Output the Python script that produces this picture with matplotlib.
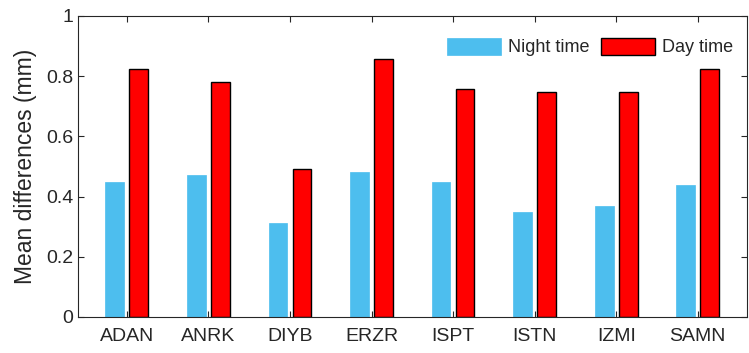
import matplotlib
matplotlib.use("Agg")
import matplotlib.pyplot as plt
import numpy as np

stations = ["ADAN", "ANRK", "DIYB", "ERZR", "ISPT", "ISTN", "IZMI", "SAMN"]
night = [0.449, 0.472, 0.311, 0.483, 0.449, 0.350, 0.370, 0.439]
day = [0.824, 0.780, 0.490, 0.857, 0.757, 0.746, 0.746, 0.824]
yticks = [0, 0.2, 0.4, 0.6, 0.8, 1]
ytick_labels = ["0", "0.2", "0.4", "0.6", "0.8", "1"]

plt.rcParams['font.family'] = ['Liberation Sans', 'DejaVu Sans']
txt = '#262626'

fig = plt.figure(figsize=(7.49, 3.53), dpi=100)
ax = fig.add_axes([0.104, 0.102, 0.893, 0.853])

x = np.arange(1, len(stations) + 1)
off = 0.147
w = 0.23
ax.bar(x - off, night, width=w, color='#4DBEEE', edgecolor='#4DBEEE', linewidth=0.5, label='Night time')
ax.bar(x + off, day, width=w, color='#FF0000', edgecolor='black', linewidth=1.0, label='Day time')

ax.set_xlim(0.4, 8.6)
ax.set_ylim(0, 1)
ax.set_xticks(x)
ax.set_xticklabels(stations, fontsize=14, color=txt)
ax.set_yticks(yticks)
ax.set_yticklabels(ytick_labels, fontsize=14, color=txt)
ax.set_ylabel("Mean differences (mm)", fontsize=16.5, color=txt, labelpad=6)
ax.tick_params(direction='in', top=True, right=True, length=4, width=0.8, colors=txt, labelcolor=txt)
ax.tick_params(axis='x', pad=8)
for s in ax.spines.values():
    s.set_color(txt)
    s.set_linewidth(0.8)

leg = ax.legend(loc='upper left', bbox_to_anchor=(0.552, 0.928), ncol=2, frameon=False,
                fontsize=13, handlelength=3.0, handleheight=1.1, handletextpad=0.4,
                columnspacing=0.6, borderpad=0, borderaxespad=0)
for t in leg.get_texts():
    t.set_color(txt)

fig.savefig("out.png", dpi=100)
